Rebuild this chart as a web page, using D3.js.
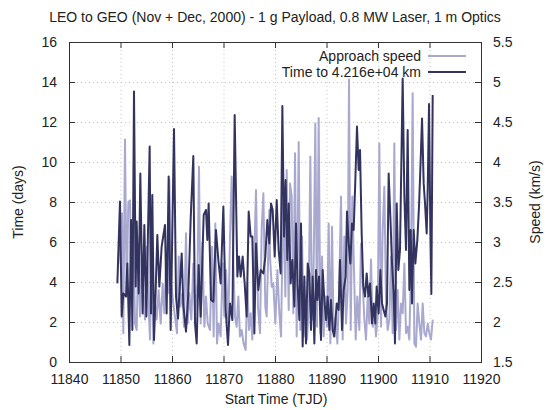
<!DOCTYPE html>
<html lang="en">
<head>
    <meta charset="UTF-8">
    <title>LEO to GEO</title>
    <style>
        body { margin: 0; background: #fff; }
        text { font-family: "Liberation Sans", Arial, sans-serif; }
    </style>
</head>
<body>
    <svg id="container" width="549" height="410"></svg>

<script src="https://cdn.jsdelivr.net/npm/d3@7"></script>
<script>
    // time to 4.216e+04 km (days), left axis
    let timeDays = [11849.39, 11849.90, 11850.23, 11850.55, 11851.07, 11851.33, 11851.72, 11852.04, 11852.30, 11852.62,
        11852.95, 11853.14, 11853.53, 11853.85, 11854.30, 11854.63, 11855.02, 11855.66, 11855.92, 11856.18,
        11856.51, 11856.83, 11857.15, 11857.54, 11857.99, 11858.64, 11858.96, 11859.35, 11859.74, 11860.39,
        11860.78, 11861.17, 11861.88, 11862.20, 11862.72, 11863.17, 11863.63, 11864.14, 11864.47, 11864.79,
        11865.18, 11865.57, 11866.15, 11866.60, 11866.86, 11867.12, 11867.57, 11868.03, 11868.54, 11869.00,
        11869.45, 11869.97, 11870.42, 11870.87, 11871.26, 11871.72, 11872.17, 11872.69, 11873.01, 11873.33,
        11873.72, 11874.11, 11874.50, 11874.89, 11875.28, 11875.60, 11875.99, 11876.31, 11876.76, 11877.22,
        11877.74, 11878.12, 11878.51, 11878.90, 11879.23, 11879.55, 11879.94, 11880.33, 11880.71, 11881.10,
        11881.43, 11881.75, 11882.07, 11882.40, 11882.66, 11883.04, 11883.37, 11883.76, 11884.08, 11884.40,
        11884.73, 11885.05, 11885.37, 11885.70, 11886.02, 11886.35, 11886.67, 11886.99, 11887.32, 11887.64,
        11887.96, 11888.22, 11888.55, 11888.93, 11889.26, 11889.58, 11889.91, 11890.23, 11890.55, 11890.88,
        11891.20, 11891.52, 11891.98, 11892.36, 11892.62, 11893.01, 11893.34, 11893.72, 11893.98, 11894.31,
        11894.63, 11894.95, 11895.28, 11895.60, 11895.92, 11896.25, 11896.51, 11896.83, 11897.15, 11897.48,
        11897.80, 11898.13, 11898.45, 11898.84, 11899.16, 11899.48, 11899.74, 11900.13, 11900.46, 11900.78,
        11901.10, 11901.43, 11901.75, 11902.07, 11902.40, 11902.72, 11903.04, 11903.30, 11903.63, 11903.95,
        11904.27, 11904.79, 11905.12, 11905.44, 11905.76, 11906.09, 11906.35, 11906.60, 11906.93, 11907.25,
        11907.64, 11907.96, 11908.22, 11908.55, 11908.87, 11909.13, 11909.45, 11909.65, 11909.91, 11910.16,
        11910.36, 11910.62]
    let timeValues = [3.93, 8.02, 2.27, 3.43, 3.27, 4.93, 0.85, 7.10, 1.60, 13.52,
        3.77, 7.02, 3.43, 9.43, 2.43, 6.85, 2.27, 10.77, 2.43, 8.35,
        1.10, 3.60, 6.35, 3.77, 5.77, 6.85, 2.43, 9.27, 1.60, 11.65,
        3.27, 2.18, 5.43, 2.85, 1.52, 3.43, 7.18, 10.30, 1.93, 0.93,
        4.85, 2.27, 7.35, 7.60, 6.10, 7.93, 3.10, 3.02, 6.60, 5.10,
        3.93, 7.77, 2.60, 0.85, 2.93, 2.10, 12.35, 4.27, 5.27, 4.27,
        5.27, 3.93, 2.27, 7.52, 6.27, 6.27, 1.43, 5.93, 3.60, 4.60,
        4.43, 5.27, 7.10, 5.93, 7.93, 7.60, 5.27, 8.10, 5.60, 4.43,
        12.80, 6.27, 9.10, 5.10, 7.93, 3.93, 5.10, 2.77, 6.93, 3.77,
        2.10, 6.93, 0.77, 4.27, 0.93, 4.93, 4.43, 1.60, 4.27, 0.93,
        4.60, 3.10, 4.27, 1.10, 4.60, 3.10, 2.10, 3.27, 1.60, 3.10,
        1.60, 1.27, 2.93, 2.60, 5.10, 1.60, 3.60, 4.27, 7.52, 5.93,
        4.93, 6.93, 6.60, 9.10, 11.77, 9.60, 10.60, 6.43, 3.77, 3.27,
        4.43, 3.27, 3.93, 1.93, 2.93, 1.93, 3.77, 2.43, 4.60, 2.93,
        2.60, 2.27, 2.93, 9.43, 7.27, 4.93, 3.43, 0.93, 7.93, 4.60,
        5.60, 14.18, 8.27, 5.60, 11.60, 3.60, 6.60, 2.93, 6.60, 4.93,
        6.10, 7.77, 9.60, 12.18, 8.93, 7.93, 6.43, 8.60, 12.90, 6.60,
        3.40, 13.35]

    // approach speed (km/s), right axis
    let speedDays = [11849.58, 11850.03, 11850.29, 11850.55, 11850.87, 11851.20, 11851.52, 11851.85, 11852.17, 11852.49,
        11852.82, 11853.14, 11853.46, 11853.79, 11854.11, 11854.43, 11854.76, 11855.15, 11855.47, 11855.73,
        11856.05, 11856.38, 11856.70, 11857.02, 11857.41, 11857.80, 11858.19, 11858.51, 11858.84, 11859.22,
        11859.48, 11859.87, 11860.26, 11860.65, 11860.97, 11861.30, 11861.62, 11862.01, 11862.33, 11862.72,
        11863.04, 11863.37, 11863.75, 11864.14, 11864.47, 11864.92, 11865.24, 11865.57, 11865.89, 11866.28,
        11866.60, 11866.93, 11867.38, 11867.77, 11868.09, 11868.41, 11868.74, 11869.06, 11869.45, 11869.84,
        11870.16, 11870.49, 11870.94, 11871.26, 11871.59, 11871.91, 11872.23, 11872.56, 11872.88, 11873.20,
        11873.53, 11873.92, 11874.30, 11874.63, 11874.95, 11875.28, 11875.60, 11875.92, 11876.31, 11876.70,
        11877.09, 11877.41, 11877.74, 11878.12, 11878.38, 11878.90, 11879.03, 11879.36, 11879.68, 11880.07,
        11880.46, 11880.84, 11881.17, 11881.62, 11882.01, 11882.27, 11882.66, 11882.92, 11883.24, 11883.56,
        11883.89, 11884.21, 11884.60, 11884.92, 11885.25, 11885.57, 11885.89, 11886.22, 11886.54, 11886.86,
        11887.19, 11887.51, 11887.83, 11888.16, 11888.48, 11888.81, 11889.13, 11889.45, 11889.78, 11890.10,
        11890.42, 11890.75, 11891.07, 11891.39, 11891.78, 11892.11, 11892.49, 11892.82, 11893.14, 11893.47,
        11893.79, 11894.11, 11894.37, 11894.70, 11895.02, 11895.34, 11895.67, 11895.99, 11896.38, 11896.70,
        11897.03, 11897.35, 11897.67, 11898.00, 11898.32, 11898.64, 11898.97, 11899.29, 11899.61, 11899.94,
        11900.26, 11900.59, 11900.91, 11901.23, 11901.56, 11901.88, 11902.20, 11902.53, 11902.85, 11903.17,
        11903.50, 11903.82, 11904.15, 11904.47, 11904.79, 11905.12, 11905.44, 11905.76, 11906.09, 11906.41,
        11906.73, 11907.06, 11907.38, 11907.70, 11908.03, 11908.35, 11908.68, 11909.00, 11909.32, 11909.65,
        11909.97, 11910.29, 11910.62]
    let speedValues = [2.73, 3.32, 3.36, 1.86, 4.28, 2.32, 3.50, 3.52, 2.23, 3.15,
        1.98, 1.90, 2.90, 2.07, 2.78, 2.36, 2.03, 2.94, 2.15, 1.78,
        3.15, 1.73, 2.23, 2.03, 2.40, 1.98, 2.48, 2.11, 2.73, 2.36,
        3.78, 2.48, 2.23, 2.03, 1.86, 2.82, 2.19, 2.36, 1.94, 3.11,
        1.98, 2.36, 2.03, 2.73, 2.11, 2.48, 3.94, 1.98, 2.98, 1.94,
        2.32, 1.98, 1.90, 2.94, 1.82, 3.23, 1.73, 1.98, 1.82, 2.73,
        2.07, 2.65, 1.98, 3.07, 3.82, 2.73, 2.07, 1.94, 2.32, 1.82,
        1.90, 1.73, 1.65, 2.48, 1.90, 2.11, 1.78, 2.65, 3.65, 2.19,
        1.86, 3.15, 3.61, 2.19, 2.07, 3.40, 2.82, 2.44, 2.48, 1.98,
        2.65, 2.11, 1.82, 3.61, 2.32, 3.90, 2.15, 3.73, 3.57, 2.11,
        4.11, 1.82, 4.25, 1.90, 3.07, 1.82, 2.03, 1.78, 2.23, 4.07,
        2.03, 2.73, 4.48, 1.94, 4.55, 1.86, 2.82, 1.82, 2.32, 1.94,
        3.23, 1.73, 3.19, 1.82, 2.07, 1.73, 2.48, 3.57, 1.78, 3.07,
        1.98, 2.40, 5.03, 1.90, 3.57, 2.65, 1.78, 2.32, 1.90, 2.98,
        2.48, 2.03, 1.78, 2.32, 1.98, 2.78, 1.94, 2.19, 1.82, 2.07,
        4.23, 1.94, 3.15, 3.69, 2.23, 1.90, 2.03, 2.82, 1.86, 4.23,
        1.90, 2.40, 1.78, 2.23, 2.11, 2.73, 1.86, 1.94, 1.78, 2.73,
        4.86, 1.73, 1.69, 2.23, 1.98, 1.78, 2.23, 1.86, 1.82, 1.98,
        1.86, 1.78, 2.03]

    let xTicks = [11840, 11850, 11860, 11870, 11880, 11890, 11900, 11910, 11920]
    let yTicks = [0, 2, 4, 6, 8, 10, 12, 14, 16]
    let y2Ticks = [1.5, 2, 2.5, 3, 3.5, 4, 4.5, 5, 5.5]

    let plotLeft = 69, plotRight = 481, plotTop = 42, plotBottom = 362
    let lightColor = "#a9a9d0"
    let darkColor = "#333360"
    let fontSize = "14px"

    let svg = d3.select("#container")

    let x = d3.scaleLinear().domain([11840, 11920]).range([plotLeft, plotRight])
    let y = d3.scaleLinear().domain([0, 16]).range([plotBottom, plotTop])
    let y2 = d3.scaleLinear().domain([1.5, 5.5]).range([plotBottom, plotTop])

    // grid
    let grid = svg.append("g")
        .attr("stroke", "#c8c8c8")
        .attr("stroke-width", 1)
        .attr("stroke-dasharray", "1,3")
    grid.selectAll(".gx").data(xTicks.slice(1, -1))
        .enter().append("line")
        .attr("x1", d => x(d) + 0.5).attr("x2", d => x(d) + 0.5)
        .attr("y1", plotTop).attr("y2", plotBottom)
    grid.selectAll(".gy").data(yTicks.slice(1, -1))
        .enter().append("line")
        .attr("x1", plotLeft).attr("x2", plotRight)
        .attr("y1", d => y(d) + 0.5).attr("y2", d => y(d) + 0.5)

    // series
    let speedLine = d3.line()
        .x((d, i) => x(speedDays[i]))
        .y(d => y2(d))
    let timeLine = d3.line()
        .x((d, i) => x(timeDays[i]))
        .y(d => y(d))

    svg.append("path")
        .attr("d", speedLine(speedValues))
        .attr("fill", "none")
        .attr("stroke", lightColor)
        .attr("stroke-width", 2)
        .attr("stroke-linejoin", "round")

    svg.append("path")
        .attr("d", timeLine(timeValues))
        .attr("fill", "none")
        .attr("stroke", darkColor)
        .attr("stroke-width", 2)
        .attr("stroke-linejoin", "round")

    // axes, ticks pointing inward
    let bottomAxis = svg.append("g")
        .attr("transform", `translate(0,${plotBottom})`)
        .call(d3.axisBottom(x).tickValues(xTicks).tickFormat(d3.format("d"))
            .tickSizeInner(-6).tickSizeOuter(0).tickPadding(12))
    let topAxis = svg.append("g")
        .attr("transform", `translate(0,${plotTop})`)
        .call(d3.axisTop(x).tickValues(xTicks).tickFormat("")
            .tickSizeInner(-6).tickSizeOuter(0))
    let leftAxis = svg.append("g")
        .attr("transform", `translate(${plotLeft},0)`)
        .call(d3.axisLeft(y).tickValues(yTicks)
            .tickSizeInner(-6).tickSizeOuter(0).tickPadding(12))
    let rightAxis = svg.append("g")
        .attr("transform", `translate(${plotRight},0)`)
        .call(d3.axisRight(y2).tickValues(y2Ticks).tickFormat(d => d)
            .tickSizeInner(-6).tickSizeOuter(0).tickPadding(12))

    for (let a of [bottomAxis, topAxis, leftAxis, rightAxis]) {
        a.select(".domain").remove()
        a.selectAll("line").attr("stroke", "#333")
        a.selectAll("text")
            .attr("fill", "#222")
            .style("font-size", fontSize)
            .style("font-family", "'Liberation Sans', Arial, sans-serif")
    }

    svg.append("rect")
        .attr("x", plotLeft + 0.5).attr("y", plotTop + 0.5)
        .attr("width", plotRight - plotLeft).attr("height", plotBottom - plotTop)
        .attr("fill", "none")
        .attr("stroke", "#333")

    // labels
    svg.append("text")
        .attr("x", 275).attr("y", 22)
        .attr("text-anchor", "middle")
        .style("font-size", fontSize)
        .attr("fill", "#222")
        .text("LEO to GEO (Nov + Dec, 2000) - 1 g Payload, 0.8 MW Laser, 1 m Optics")

    svg.append("text")
        .attr("x", 276).attr("y", 404)
        .attr("text-anchor", "middle")
        .style("font-size", fontSize)
        .attr("fill", "#222")
        .text("Start Time (TJD)")

    svg.append("text")
        .attr("transform", "translate(23,202) rotate(-90)")
        .attr("text-anchor", "middle")
        .style("font-size", fontSize)
        .attr("fill", "#222")
        .text("Time (days)")

    svg.append("text")
        .attr("transform", "translate(540,202) rotate(-90)")
        .attr("text-anchor", "middle")
        .style("font-size", fontSize)
        .attr("fill", "#222")
        .text("Speed (km/s)")

    // legend
    let legendItems = [
        { label: "Approach speed", color: lightColor },
        { label: "Time to 4.216e+04 km", color: darkColor }
    ]
    let legend = svg.selectAll(".legend").data(legendItems)
        .enter().append("g")
        .attr("transform", (d, i) => `translate(0,${56 + i * 16})`)
    legend.append("text")
        .attr("x", 421).attr("y", 5)
        .attr("text-anchor", "end")
        .style("font-size", fontSize)
        .attr("fill", "#222")
        .text(d => d.label)
    legend.append("line")
        .attr("x1", 428).attr("x2", 466)
        .attr("y1", 0).attr("y2", 0)
        .attr("stroke", d => d.color)
        .attr("stroke-width", 2)
</script>
</body>
</html>
